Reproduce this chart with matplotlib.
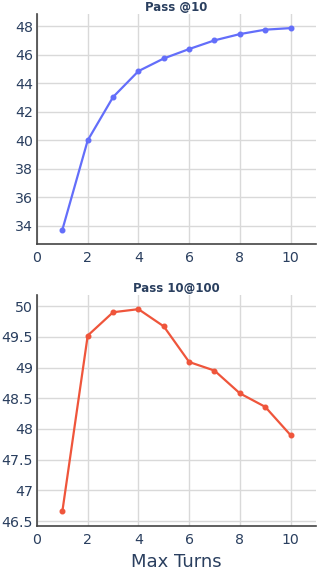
import matplotlib
matplotlib.use('Agg')
import matplotlib.pyplot as plt

# values
turns = [1, 2, 3, 4, 5, 6, 7, 8, 9, 10]
pass_at_10 = [33.72, 40.0, 43.04, 44.86, 45.75, 46.41, 47.02, 47.46, 47.77, 47.88]
pass_10_at_100 = [46.66, 49.52, 49.90, 49.95, 49.67, 49.09, 48.95, 48.58, 48.36, 47.90]
x_ticks = [0, 2, 4, 6, 8, 10]
top_yticks = [34, 36, 38, 40, 42, 44, 46, 48]
bot_yticks = [46.5, 47, 47.5, 48, 48.5, 49, 49.5, 50]
bot_ylabels = ['46.5', '47', '47.5', '48', '48.5', '49', '49.5', '50']

text_col = '#2a3f5f'
plt.rcParams['font.family'] = 'DejaVu Sans'

fig = plt.figure(figsize=(3.18, 5.72), dpi=100)
ax1 = fig.add_axes([0.1164, 0.5727, 0.877, 0.4028])
ax2 = fig.add_axes([0.1164, 0.0804, 0.877, 0.4038])


def style(ax, yticks, ylabels, ylim):
    ax.set_xlim(0, 11)
    ax.set_ylim(*ylim)
    ax.set_xticks(x_ticks)
    ax.set_yticks(yticks)
    ax.set_yticklabels(ylabels)
    ax.grid(True, color='#d9d9d9', linewidth=1)
    ax.set_axisbelow(True)
    for s in ['top', 'right']:
        ax.spines[s].set_visible(False)
    ax.spines['left'].set_color('#444444')
    ax.spines['bottom'].set_color('#444444')
    ax.spines['left'].set_linewidth(1.2)
    ax.spines['bottom'].set_linewidth(1.2)
    ax.tick_params(axis='both', length=0, labelsize=10.2, colors=text_col)
    ax.tick_params(axis='y', pad=3)
    ax.tick_params(axis='x', pad=5)


ax1.plot(turns, pass_at_10, color='#636efa', linewidth=1.6, marker='o', markersize=3.3)
style(ax1, top_yticks, [str(v) for v in top_yticks], (32.69, 48.87))
ax1.set_title('Pass @10', fontsize=8.5, fontweight='bold', color=text_col, pad=2)

ax2.plot(turns, pass_10_at_100, color='#ef553b', linewidth=1.6, marker='o', markersize=3.3)
style(ax2, bot_yticks, bot_ylabels, (46.42, 50.18))
ax2.set_title('Pass 10@100', fontsize=8.5, fontweight='bold', color=text_col, pad=2)
ax2.set_xlabel('Max Turns', fontsize=13, color=text_col, labelpad=4)

fig.savefig('out.png', dpi=100, facecolor='white')
